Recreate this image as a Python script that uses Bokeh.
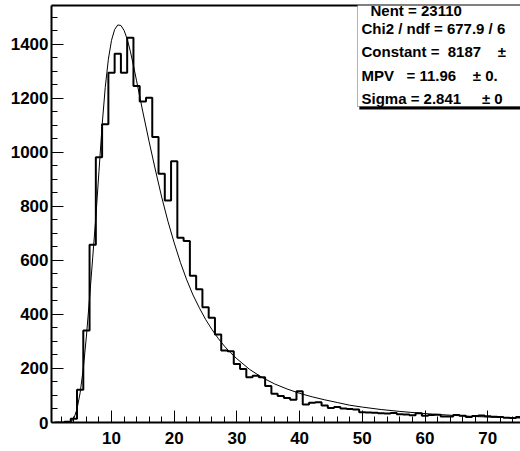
from bokeh.plotting import figure
from bokeh.models import Range1d, SingleIntervalTicker, FixedTicker, LinearAxis, Label, BoxAnnotation
from bokeh.embed import file_html
from bokeh.resources import INLINE

# ---- data ----
bin_centers = list(range(1, 77))
counts = [0, 0, 3, 14, 121, 341, 658, 982, 1104, 1295, 1365, 1295, 1425, 1246, 1189, 1202, 1057, 921, 822, 967,
          684, 672, 543, 493, 427, 388, 326, 267, 264, 217, 198, 168, 173, 168, 135, 106, 98, 91, 84, 116,
          67, 73, 75, 63, 54, 57, 52, 50, 48, 38, 37, 36, 34, 33, 35, 31, 30, 27, 34, 25,
          28, 29, 22, 22, 28, 25, 20, 24, 26, 23, 21, 20, 18, 17, 20, 18]

fit_x = [3.0, 3.5, 4.0, 4.5, 5.0, 5.5, 6.0, 6.5, 7.0, 7.5, 8.0, 8.5, 9.0, 9.5, 10.0, 10.5, 11.0, 11.5,
         12.0, 12.5, 13.0, 13.5, 14.0, 15.0, 16.0, 17.0, 18.0, 19.0, 20.0, 21.0, 22.0, 23.0, 24.0, 25.0,
         26.0, 27.0, 28.0, 29.0, 30.0, 32.0, 34.0, 36.0, 38.0, 40.0, 42.0, 44.0, 46.0, 48.0, 50.0, 53.0,
         56.0, 60.0, 64.0, 68.0, 72.0, 76.0]
fit_y = [0, 1, 15, 50, 110, 200, 320, 460, 610, 760, 930, 1100, 1240, 1345, 1415, 1455, 1472, 1470,
         1452, 1420, 1375, 1322, 1265, 1150, 1040, 935, 835, 745, 665, 592, 528, 472, 425, 382,
         345, 312, 283, 258, 236, 197, 167, 143, 124, 108, 95, 84, 74, 64, 57, 48,
         41, 33, 27, 22, 19, 16]

NB = "\u00a0"
stats_lines = ["Nent = 23110",
               "Chi2 / ndf = 677.9 / 6",
               "Constant = " + NB + "8187" + NB * 4 + "\u00b1",
               "MPV" + NB * 3 + "= 11.96" + NB * 4 + "\u00b1 0.",
               "Sigma" + NB + "= 2.841" + NB * 5 + "\u00b1 0"]

FONT = "Liberation Sans"

p = figure(width=520, height=451, output_backend="svg", toolbar_location=None,
           x_range=Range1d(0.43, 75.23), y_range=Range1d(0, 1544),
           min_border_left=51, min_border_right=0, min_border_top=5, min_border_bottom=29)
p.background_fill_color = "white"
p.border_fill_color = "white"
p.outline_line_color = None
p.xgrid.visible = False
p.ygrid.visible = False

# axes, ROOT style ticks pointing into the frame
for ax in (p.xaxis[0], p.yaxis[0]):
    ax.axis_line_width = 2
    ax.axis_line_color = "black"
    ax.major_tick_in = 12
    ax.major_tick_out = 0
    ax.minor_tick_in = 6
    ax.minor_tick_out = 0
    ax.major_tick_line_width = 1
    ax.minor_tick_line_width = 1
    ax.major_label_text_font = FONT
    ax.major_label_text_font_style = "bold"
    ax.major_label_text_font_size = "17px"
    ax.major_label_text_color = "black"

p.xaxis.ticker = SingleIntervalTicker(interval=10, num_minor_ticks=5)
p.yaxis.ticker = SingleIntervalTicker(interval=200, num_minor_ticks=4)
p.xaxis.major_label_standoff = 9
p.yaxis.major_label_standoff = 3

top_axis = LinearAxis(ticker=FixedTicker(ticks=[]), axis_line_width=2,
                      major_tick_line_color=None, minor_tick_line_color=None,
                      major_label_text_font_size="0px", major_label_standoff=0)
p.add_layout(top_axis, "above")

# histogram and fit
p.step(bin_centers, counts, mode="center", line_width=2, line_color="black")
p.line(fit_x, fit_y, line_width=1, line_color="black")

# stats box (ROOT style with shadow)
box_left = 49.23
box_bottom = 1170
shadow = BoxAnnotation(left=box_left + 0.3, right=90, bottom=box_bottom - 11, top=2000,
                       fill_color="black", fill_alpha=1.0, line_color=None, level="overlay")
box = BoxAnnotation(left=box_left, right=90, bottom=box_bottom, top=2000,
                    fill_color="white", fill_alpha=1.0, line_color="black", line_width=1,
                    level="overlay")
p.add_layout(shadow)
p.add_layout(box)

row_y = [1525, 1459, 1374, 1285, 1200]
row_x = [51.31, 49.87, 49.87, 49.87, 49.87]
for txt, xx, yy in zip(stats_lines, row_x, row_y):
    p.add_layout(Label(x=xx, y=yy, text=txt, text_font=FONT, text_font_style="bold",
                       text_font_size="15px", text_baseline="middle", text_align="left",
                       text_color="black", level="overlay"))

open("out.html", "w").write(file_html(p, INLINE))
